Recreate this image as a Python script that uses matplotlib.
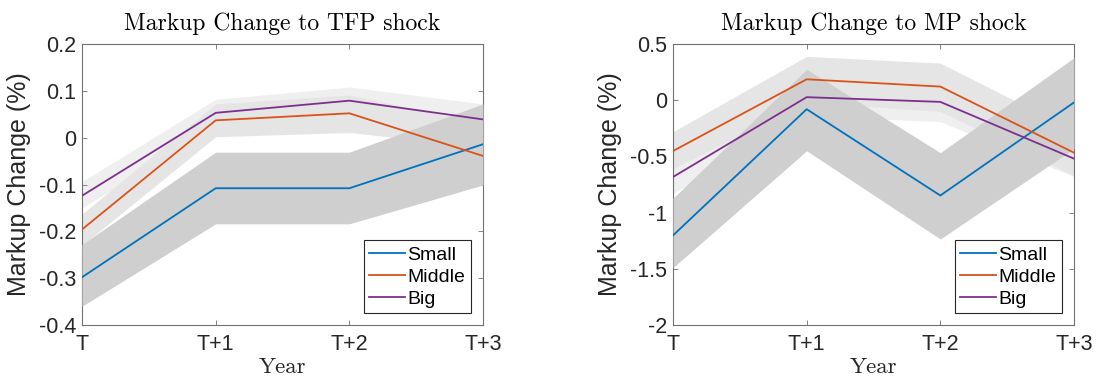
import matplotlib
matplotlib.use("Agg")
import matplotlib.pyplot as plt
import numpy as np

# ---------------- data ----------------
periods = ["T", "T+1", "T+2", "T+3"]
series_names = ["Small", "Middle", "Big"]

# TFP shock panel
tfp_small = [-0.298, -0.108, -0.108, -0.014]
tfp_small_hi = [-0.228, -0.031, -0.031, 0.072]
tfp_small_lo = [-0.360, -0.184, -0.184, -0.101]
tfp_middle = [-0.196, 0.037, 0.052, -0.039]
tfp_middle_hi = [-0.163, 0.072, 0.091, 0.030]
tfp_middle_lo = [-0.230, 0.002, 0.011, -0.020]
tfp_big = [-0.124, 0.053, 0.079, 0.039]
tfp_big_hi = [-0.094, 0.082, 0.108, 0.072]
tfp_big_lo = [-0.150, 0.023, 0.050, 0.006]

# MP shock panel
mp_small = [-1.203, -0.080, -0.848, -0.020]
mp_small_hi = [-0.872, 0.275, -0.467, 0.378]
mp_small_lo = [-1.490, -0.450, -1.235, -0.430]
mp_middle = [-0.452, 0.186, 0.121, -0.467]
mp_middle_hi = [-0.280, 0.390, 0.330, -0.270]
mp_middle_lo = [-0.610, -0.020, -0.100, -0.670]
mp_big = [-0.683, 0.027, -0.015, -0.520]
mp_big_hi = [-0.530, 0.190, 0.160, -0.360]
mp_big_lo = [-0.830, -0.140, -0.190, -0.680]

tfp_yticks = [-0.4, -0.3, -0.2, -0.1, 0, 0.1, 0.2]
tfp_yticklabels = ["-0.4", "-0.3", "-0.2", "-0.1", "0", "0.1", "0.2"]
mp_yticks = [-2, -1.5, -1, -0.5, 0, 0.5]
mp_yticklabels = ["-2", "-1.5", "-1", "-0.5", "0", "0.5"]

titles = ["Markup Change to TFP shock", "Markup Change to MP shock"]
ylabel = "Markup Change (%)"
xlabel = "Year"

# ---------------- style ----------------
line_colors = ["#0072BD", "#D95319", "#7E2F8E"]
band_colors = ["#cfcfcf", "#e5e5e5", "#efefef"]
frame_color = "#707070"
text_color = "#262626"
sans = ["Liberation Sans", "DejaVu Sans"]
serif = ["cmr10", "DejaVu Serif"]

W, H = 1099, 381
fig = plt.figure(figsize=(W / 100, H / 100), dpi=100)

panels = [
    dict(left=82, series=[(tfp_small, tfp_small_lo, tfp_small_hi),
                          (tfp_middle, tfp_middle_lo, tfp_middle_hi),
                          (tfp_big, tfp_big_lo, tfp_big_hi)],
         ylim=(-0.4, 0.2), yticks=tfp_yticks, yticklabels=tfp_yticklabels),
    dict(left=673, series=[(mp_small, mp_small_lo, mp_small_hi),
                           (mp_middle, mp_middle_lo, mp_middle_hi),
                           (mp_big, mp_big_lo, mp_big_hi)],
         ylim=(-2, 0.5), yticks=mp_yticks, yticklabels=mp_yticklabels),
]

ax_w, ax_top, ax_bot = 401, 44, 325
x = np.arange(len(periods))

for i, p in enumerate(panels):
    ax = fig.add_axes([p["left"] / W, (H - ax_bot) / H, ax_w / W, (ax_bot - ax_top) / H])
    # bands: big, middle, small (small on top)
    for k in [2, 1, 0]:
        mid, lo, hi = p["series"][k]
        ax.fill_between(x, lo, hi, color=band_colors[k], lw=0, zorder=1 + (2 - k))
    handles = []
    for k in range(3):
        mid, lo, hi = p["series"][k]
        h, = ax.plot(x, mid, color=line_colors[k], lw=1.3, zorder=5, label=series_names[k])
        handles.append(h)
    ax.set_xlim(0, len(periods) - 1)
    ax.set_ylim(*p["ylim"])
    ax.set_xticks(x)
    ax.set_xticklabels(periods, fontfamily=sans, fontsize=15.5, color=text_color)
    ax.set_yticks(p["yticks"])
    ax.set_yticklabels(p["yticklabels"], fontfamily=sans, fontsize=15.5, color=text_color)
    ax.tick_params(axis="both", direction="in", length=3.5, width=0.6, color=frame_color,
                   top=True, right=True)
    ax.tick_params(axis="x", pad=6.5)
    ax.tick_params(axis="y", pad=4)
    for s in ax.spines.values():
        s.set_color(frame_color)
        s.set_linewidth(0.8)
    ax.set_title(titles[i], fontfamily=serif, fontsize=17, color="black", pad=10)
    ax.set_xlabel(xlabel, fontfamily=serif, fontsize=16.5, color=text_color, labelpad=2)
    ax.set_ylabel(ylabel, fontfamily=sans, fontsize=18, color=text_color)
    ax.yaxis.set_label_coords(-0.128, 0.5)
    leg = ax.legend(handles=handles, loc="lower right", bbox_to_anchor=(0.97, 0.041),
                    borderaxespad=0, prop={"family": sans, "size": 14},
                    handlelength=1.85, handletextpad=0.1, labelspacing=0.22,
                    borderpad=0.3, fancybox=False, framealpha=1)
    leg.get_frame().set_edgecolor("#262626")
    leg.get_frame().set_linewidth(0.8)
    for t in leg.get_texts():
        t.set_color("black")

fig.savefig("out.png", dpi=100)
